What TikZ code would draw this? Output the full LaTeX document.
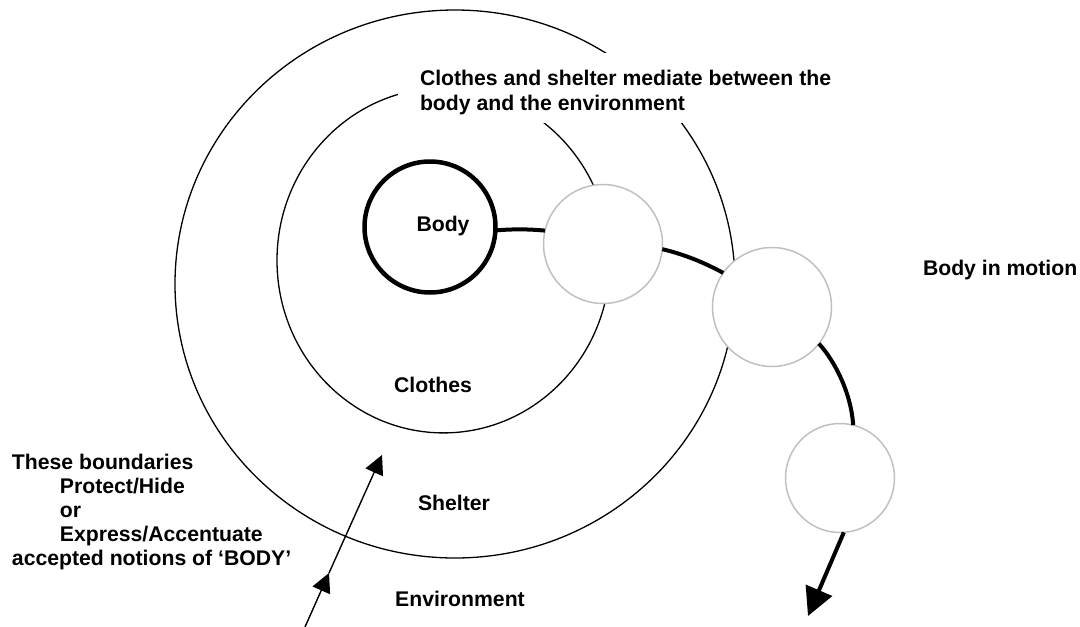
\documentclass[tikz,border=0pt]{standalone}
\usepackage{fontspec}
\setmainfont{Liberation Sans}
\usetikzlibrary{arrows.meta,shapes.geometric}
\definecolor{ringgray}{RGB}{192,192,192}
\begin{document}
\begin{tikzpicture}[x=1pt,y=-1pt,
  lbl/.style={font=\fontsize{21.2}{25}\selectfont\bfseries, inner sep=0pt, outer sep=0pt},
  ring/.style={ellipse, draw=black, line width=1.3pt, inner sep=0pt, outer sep=0pt},
  stage/.style={circle, draw=ringgray, fill=white, line width=1.5pt, inner sep=0pt, outer sep=0pt},
  motion/.style={line width=4pt},
  thinarrow/.style={line width=1.4pt, -{Triangle[length=19pt,width=19pt]}}]
\useasboundingbox (0,0) rectangle (1080,627);
% boundaries
\node[ring, minimum width=560pt, minimum height=548pt] (shelter) at (455,284) {};
\node[ring, minimum width=333pt, minimum height=345pt] (clothes) at (443.5,260.4) {};
% top note with white background (base = last line's baseline)
\node[lbl, fill=white, align=left, anchor=base west, inner xsep=22pt, inner ysep=0pt,
      text height=57pt, text depth=13pt] (note) at (398,110)
  {Clothes and shelter mediate between the\\body and the environment};
% body
\node[circle, draw, line width=4.5pt, minimum size=131pt, inner sep=0pt, outer sep=0pt] (body) at (430,227) {};
% motion stages
\node[stage, minimum size=119pt] (c1) at (603,244) {};
\node[stage, minimum size=119pt] (c2) at (772,307) {};
\node[stage, minimum size=109pt] (c3) at (840,478) {};
\coordinate (mtip) at (808,616);
\draw[motion] (body.-3) .. controls (513,229) and (528,229) .. (c1.167);
\draw[motion] (c1.-5) .. controls (683,254) and (703,262) .. (c2.145);
\draw[motion] (c2.-38) .. controls (834,360) and (851,392) .. (c3.76);
\draw[motion, -{Triangle[length=28pt,width=28pt]}] (c3.-86) -- (mtip);
% labels
\node[lbl, anchor=base] (bodylbl) at (443,231.6) {Body};
\node[lbl, anchor=base] (clotheslbl) at (433,392.6) {Clothes};
\node[lbl, anchor=base] (shelterlbl) at (454,510.6) {Shelter};
\node[lbl, anchor=base] (envlbl) at (460,606.6) {Environment};
\node[lbl, anchor=base west] (motionlbl) at (923,275.6) {Body in motion};
\node[lbl, font=\fontsize{21.2}{23.8}\selectfont\bfseries, align=left, anchor=base west] (boundlbl) at (12,565)
  {These boundaries\\\hspace*{48pt}Protect/Hide\\\hspace*{48pt}or\\\hspace*{48pt}Express/Accentuate\\accepted notions of ‘BODY’};
% thin arrow
\coordinate (a0) at (305,627);
\coordinate (a1) at (329,573);
\coordinate (a2) at (382,455);
\draw[thinarrow] (a0) -- (a1);
\draw[thinarrow] (a1) -- (a2);
\end{tikzpicture}
\end{document}
